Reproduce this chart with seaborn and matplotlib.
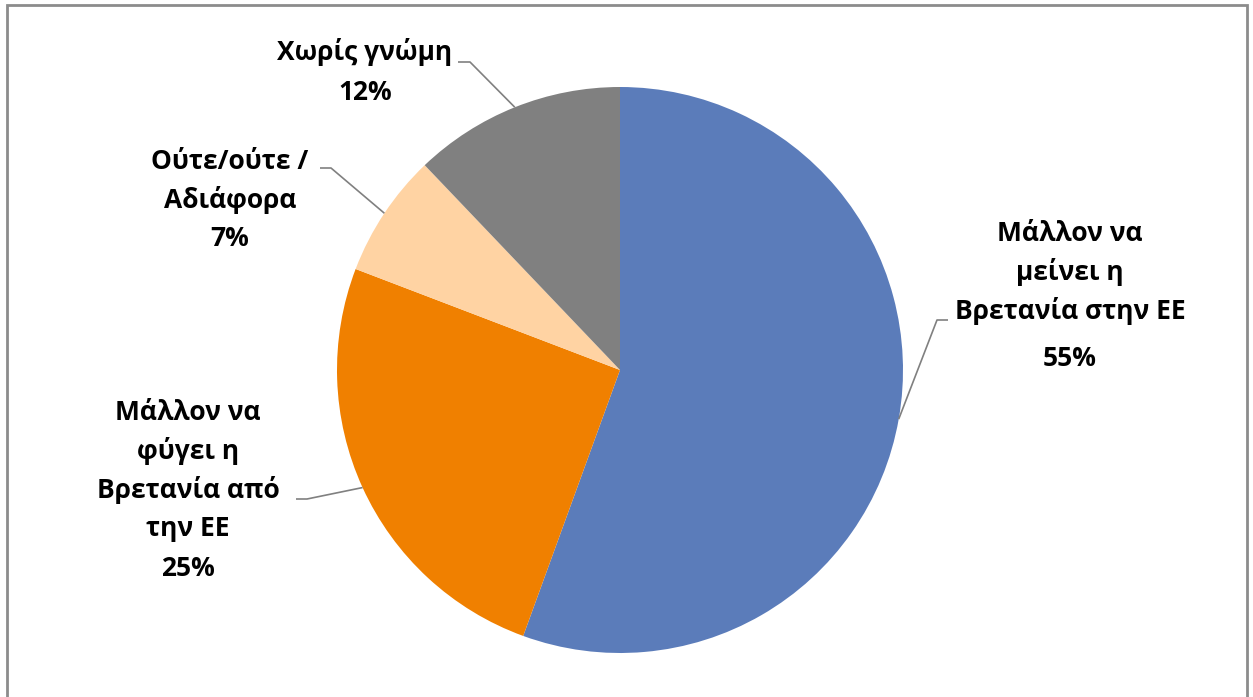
"""
Pie chart: Brexit opinion poll (Greek labels)
"""

import numpy as np
import matplotlib
matplotlib.use('Agg')
import matplotlib.pyplot as plt
import seaborn as sns
from matplotlib.patches import Rectangle

# data
LABELS = ['Μάλλον να\nμείνει η\nΒρετανία στην ΕΕ',
          'Μάλλον να\nφύγει η\nΒρετανία από\nτην ΕΕ',
          'Ούτε/ούτε /\nΑδιάφορα',
          'Χωρίς γνώμη']
VALUES = [55, 25, 7, 12]
PCT_TEXT = ['55%', '25%', '7%', '12%']
COLORS = ['#5B7CBA', '#F08000', '#FFD3A3', '#808080']

# figure dimensions
X_PIXELS, Y_PIXELS, DPI = 1253, 697, 100

sns.set_theme(style='white')
plt.rcParams['font.family'] = ['Open Sans', 'DejaVu Sans']

fig = plt.figure(figsize=(X_PIXELS / DPI, Y_PIXELS / DPI), dpi=DPI)
ax = fig.add_axes([0, 0, 1, 1])

# pie centre and radius in pixels (y measured from the top)
CX, CY, R = 620, 370, 283
wedges, _ = ax.pie(VALUES, colors=COLORS, startangle=90, counterclock=False,
                   center=(CX, Y_PIXELS - CY), radius=R,
                   wedgeprops=dict(linewidth=0))
ax.set_xlim(0, X_PIXELS)
ax.set_ylim(0, Y_PIXELS)
ax.set_aspect('equal')
ax.axis('off')

# label layout: (text x, name top y, pct y, elbow x, elbow y, line end x)
LAYOUT = [
    (1070, 220, 358, 937, 320, 948),
    (188, 399, 569, 307, 499, 296),
    (230, 148, 238, 331, 168, 320),
    (365, 38, 92, 470, 62, 458),
]

font = dict(fontsize=19, fontweight='bold', color='black', ha='center')
for w, name, pct, (tx, ty, py, ex, ey, lx) in zip(wedges, LABELS, PCT_TEXT, LAYOUT):
    mid = np.deg2rad((w.theta1 + w.theta2) / 2)
    sx = CX + R * np.cos(mid)
    sy = Y_PIXELS - CY + R * np.sin(mid)
    ax.plot([sx, ex, lx], [sy, Y_PIXELS - ey, Y_PIXELS - ey],
            color='#808080', lw=1.2, solid_capstyle='butt')
    ax.text(tx, Y_PIXELS - ty, name, va='top', linespacing=1.5, **font)
    ax.text(tx, Y_PIXELS - py, pct, va='center', **font)

# chart border
fig.patches.append(Rectangle((7, -10), 1240, Y_PIXELS - 5 + 10, transform=None,
                             fill=False, edgecolor='#8c8c8c', linewidth=2))

fig.savefig('out.png', dpi=DPI)
